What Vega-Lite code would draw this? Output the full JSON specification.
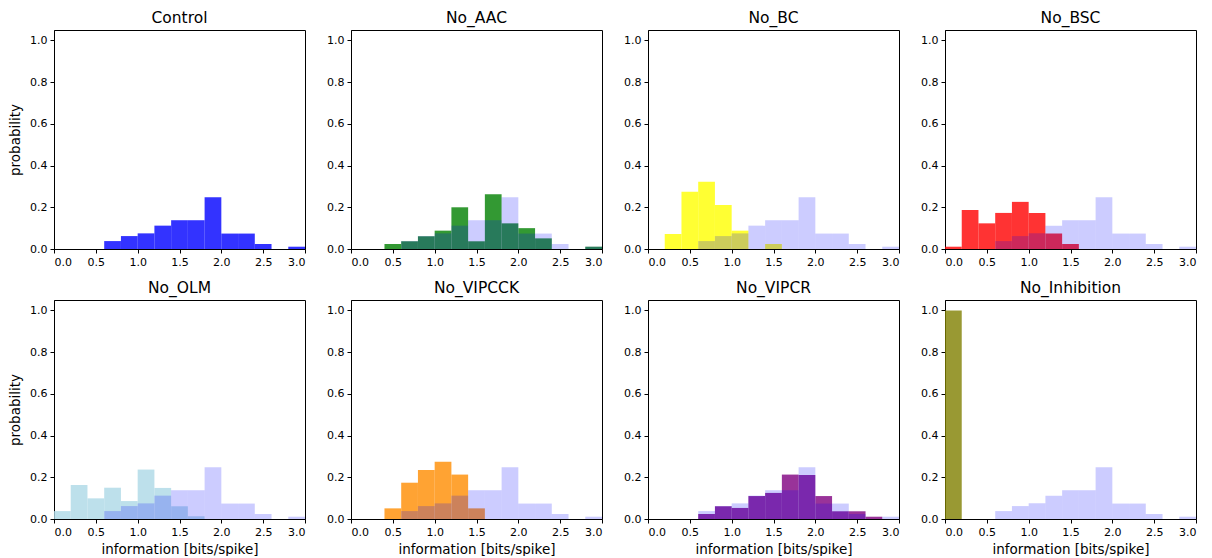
{
  "$schema": "https://vega.github.io/schema/vega-lite/v6.json",
  "background": "white",
  "padding": {"left": 8, "top": 10, "right": 0, "bottom": 0},
  "datasets": {
    "h": [
      {"c": "Control", "b": 0.6, "e": 0.8, "p": 0.038},
      {"c": "Control", "b": 0.8, "e": 1.0, "p": 0.062},
      {"c": "Control", "b": 1.0, "e": 1.2, "p": 0.075},
      {"c": "Control", "b": 1.2, "e": 1.4, "p": 0.112},
      {"c": "Control", "b": 1.4, "e": 1.6, "p": 0.138},
      {"c": "Control", "b": 1.6, "e": 1.8, "p": 0.138},
      {"c": "Control", "b": 1.8, "e": 2.0, "p": 0.248},
      {"c": "Control", "b": 2.0, "e": 2.2, "p": 0.074},
      {"c": "Control", "b": 2.2, "e": 2.4, "p": 0.074},
      {"c": "Control", "b": 2.4, "e": 2.6, "p": 0.024},
      {"c": "Control", "b": 2.8, "e": 3.0, "p": 0.011},
      {"c": "No_AAC", "b": 0.4, "e": 0.6, "p": 0.024},
      {"c": "No_AAC", "b": 0.6, "e": 0.8, "p": 0.037},
      {"c": "No_AAC", "b": 0.8, "e": 1.0, "p": 0.061},
      {"c": "No_AAC", "b": 1.0, "e": 1.2, "p": 0.088},
      {"c": "No_AAC", "b": 1.2, "e": 1.4, "p": 0.2},
      {"c": "No_AAC", "b": 1.4, "e": 1.6, "p": 0.037},
      {"c": "No_AAC", "b": 1.6, "e": 1.8, "p": 0.262},
      {"c": "No_AAC", "b": 1.8, "e": 2.0, "p": 0.123},
      {"c": "No_AAC", "b": 2.0, "e": 2.2, "p": 0.1},
      {"c": "No_AAC", "b": 2.2, "e": 2.4, "p": 0.051},
      {"c": "No_AAC", "b": 2.8, "e": 3.0, "p": 0.011},
      {"c": "No_BC", "b": 0.2, "e": 0.4, "p": 0.072},
      {"c": "No_BC", "b": 0.4, "e": 0.6, "p": 0.274},
      {"c": "No_BC", "b": 0.6, "e": 0.8, "p": 0.323},
      {"c": "No_BC", "b": 0.8, "e": 1.0, "p": 0.211},
      {"c": "No_BC", "b": 1.0, "e": 1.2, "p": 0.088},
      {"c": "No_BC", "b": 1.4, "e": 1.6, "p": 0.024},
      {"c": "No_BSC", "b": 0.0, "e": 0.2, "p": 0.011},
      {"c": "No_BSC", "b": 0.2, "e": 0.4, "p": 0.187},
      {"c": "No_BSC", "b": 0.4, "e": 0.6, "p": 0.123},
      {"c": "No_BSC", "b": 0.6, "e": 0.8, "p": 0.173},
      {"c": "No_BSC", "b": 0.8, "e": 1.0, "p": 0.226},
      {"c": "No_BSC", "b": 1.0, "e": 1.2, "p": 0.173},
      {"c": "No_BSC", "b": 1.2, "e": 1.4, "p": 0.074},
      {"c": "No_BSC", "b": 1.4, "e": 1.6, "p": 0.024},
      {"c": "No_OLM", "b": 0.0, "e": 0.2, "p": 0.038},
      {"c": "No_OLM", "b": 0.2, "e": 0.4, "p": 0.163},
      {"c": "No_OLM", "b": 0.4, "e": 0.6, "p": 0.099},
      {"c": "No_OLM", "b": 0.6, "e": 0.8, "p": 0.150},
      {"c": "No_OLM", "b": 0.8, "e": 1.0, "p": 0.086},
      {"c": "No_OLM", "b": 1.0, "e": 1.2, "p": 0.237},
      {"c": "No_OLM", "b": 1.2, "e": 1.4, "p": 0.149},
      {"c": "No_OLM", "b": 1.4, "e": 1.6, "p": 0.061},
      {"c": "No_OLM", "b": 1.6, "e": 1.8, "p": 0.013},
      {"c": "No_VIPCCK", "b": 0.4, "e": 0.6, "p": 0.051},
      {"c": "No_VIPCCK", "b": 0.6, "e": 0.8, "p": 0.174},
      {"c": "No_VIPCCK", "b": 0.8, "e": 1.0, "p": 0.235},
      {"c": "No_VIPCCK", "b": 1.0, "e": 1.2, "p": 0.275},
      {"c": "No_VIPCCK", "b": 1.2, "e": 1.4, "p": 0.213},
      {"c": "No_VIPCCK", "b": 1.4, "e": 1.6, "p": 0.051},
      {"c": "No_VIPCR", "b": 0.6, "e": 0.8, "p": 0.024},
      {"c": "No_VIPCR", "b": 0.8, "e": 1.0, "p": 0.061},
      {"c": "No_VIPCR", "b": 1.0, "e": 1.2, "p": 0.053},
      {"c": "No_VIPCR", "b": 1.2, "e": 1.4, "p": 0.11},
      {"c": "No_VIPCR", "b": 1.4, "e": 1.6, "p": 0.125},
      {"c": "No_VIPCR", "b": 1.6, "e": 1.8, "p": 0.213},
      {"c": "No_VIPCR", "b": 1.8, "e": 2.0, "p": 0.211},
      {"c": "No_VIPCR", "b": 2.0, "e": 2.2, "p": 0.11},
      {"c": "No_VIPCR", "b": 2.2, "e": 2.4, "p": 0.037},
      {"c": "No_VIPCR", "b": 2.4, "e": 2.6, "p": 0.037},
      {"c": "No_VIPCR", "b": 2.6, "e": 2.8, "p": 0.011},
      {"c": "No_Inhibition", "b": 0.0, "e": 0.2, "p": 1.0}
    ]
  },
  "config": {
    "view": {"stroke": "black", "strokeWidth": 1},
    "axis": {"grid": false, "domainColor": "black", "tickColor": "black", "labelColor": "black", "labelFont": "DejaVu Sans", "labelFontSize": 11, "titleFont": "DejaVu Sans", "titleFontSize": 13.5, "titleFontWeight": "normal", "titleColor": "black", "tickSize": 4, "labelPadding": 3},
    "axisX": {"titlePadding": 5},
    "axisY": {"titlePadding": 7},
    "title": {"font": "DejaVu Sans", "fontSize": 15.5, "fontWeight": "normal", "color": "black", "offset": 3.5}
  },
  "spacing": 12,
  "vconcat": [
    {
      "spacing": 20,
      "hconcat": [
        {
          "width": 251, "height": 219, "title": "Control", "data": {"name": "h"},
          "encoding": {
            "x": {"field": "b", "type": "quantitative", "scale": {"domain": [0, 3], "nice": false}, "axis": {"title": null, "values": [0, 0.5, 1, 1.5, 2, 2.5, 3], "format": ".1f"}},
            "x2": {"field": "e"},
            "y": {"field": "p", "type": "quantitative", "scale": {"domain": [0, 1.05], "nice": false}, "axis": {"title": "probability", "values": [0, 0.2, 0.4, 0.6, 0.8, 1], "format": ".1f"}},
            "y2": {"datum": 0}
          },
          "layer": [
            {"transform": [{"filter": "datum.c === 'Control'"}], "mark": {"type": "rect", "color": "blue", "opacity": 0.8}}
          ]
        },
        {
          "width": 251, "height": 219, "title": "No_AAC", "data": {"name": "h"},
          "encoding": {
            "x": {"field": "b", "type": "quantitative", "scale": {"domain": [0, 3], "nice": false}, "axis": {"title": null, "values": [0, 0.5, 1, 1.5, 2, 2.5, 3], "format": ".1f"}},
            "x2": {"field": "e"},
            "y": {"field": "p", "type": "quantitative", "scale": {"domain": [0, 1.05], "nice": false}, "axis": {"title": null, "values": [0, 0.2, 0.4, 0.6, 0.8, 1], "format": ".1f"}},
            "y2": {"datum": 0}
          },
          "layer": [
            {"transform": [{"filter": "datum.c === 'No_AAC'"}], "mark": {"type": "rect", "color": "green", "opacity": 0.8}},
            {"transform": [{"filter": "datum.c === 'Control'"}], "mark": {"type": "rect", "color": "blue", "opacity": 0.2}}
          ]
        },
        {
          "width": 251, "height": 219, "title": "No_BC", "data": {"name": "h"},
          "encoding": {
            "x": {"field": "b", "type": "quantitative", "scale": {"domain": [0, 3], "nice": false}, "axis": {"title": null, "values": [0, 0.5, 1, 1.5, 2, 2.5, 3], "format": ".1f"}},
            "x2": {"field": "e"},
            "y": {"field": "p", "type": "quantitative", "scale": {"domain": [0, 1.05], "nice": false}, "axis": {"title": null, "values": [0, 0.2, 0.4, 0.6, 0.8, 1], "format": ".1f"}},
            "y2": {"datum": 0}
          },
          "layer": [
            {"transform": [{"filter": "datum.c === 'No_BC'"}], "mark": {"type": "rect", "color": "yellow", "opacity": 0.8}},
            {"transform": [{"filter": "datum.c === 'Control'"}], "mark": {"type": "rect", "color": "blue", "opacity": 0.2}}
          ]
        },
        {
          "width": 251, "height": 219, "title": "No_BSC", "data": {"name": "h"},
          "encoding": {
            "x": {"field": "b", "type": "quantitative", "scale": {"domain": [0, 3], "nice": false}, "axis": {"title": null, "values": [0, 0.5, 1, 1.5, 2, 2.5, 3], "format": ".1f"}},
            "x2": {"field": "e"},
            "y": {"field": "p", "type": "quantitative", "scale": {"domain": [0, 1.05], "nice": false}, "axis": {"title": null, "values": [0, 0.2, 0.4, 0.6, 0.8, 1], "format": ".1f"}},
            "y2": {"datum": 0}
          },
          "layer": [
            {"transform": [{"filter": "datum.c === 'No_BSC'"}], "mark": {"type": "rect", "color": "red", "opacity": 0.8}},
            {"transform": [{"filter": "datum.c === 'Control'"}], "mark": {"type": "rect", "color": "blue", "opacity": 0.2}}
          ]
        }
      ]
    },
    {
      "spacing": 20,
      "hconcat": [
        {
          "width": 251, "height": 219, "title": "No_OLM", "data": {"name": "h"},
          "encoding": {
            "x": {"field": "b", "type": "quantitative", "scale": {"domain": [0, 3], "nice": false}, "axis": {"title": "information [bits/spike]", "values": [0, 0.5, 1, 1.5, 2, 2.5, 3], "format": ".1f"}},
            "x2": {"field": "e"},
            "y": {"field": "p", "type": "quantitative", "scale": {"domain": [0, 1.05], "nice": false}, "axis": {"title": "probability", "values": [0, 0.2, 0.4, 0.6, 0.8, 1], "format": ".1f"}},
            "y2": {"datum": 0}
          },
          "layer": [
            {"transform": [{"filter": "datum.c === 'No_OLM'"}], "mark": {"type": "rect", "color": "lightblue", "opacity": 0.8}},
            {"transform": [{"filter": "datum.c === 'Control'"}], "mark": {"type": "rect", "color": "blue", "opacity": 0.2}}
          ]
        },
        {
          "width": 251, "height": 219, "title": "No_VIPCCK", "data": {"name": "h"},
          "encoding": {
            "x": {"field": "b", "type": "quantitative", "scale": {"domain": [0, 3], "nice": false}, "axis": {"title": "information [bits/spike]", "values": [0, 0.5, 1, 1.5, 2, 2.5, 3], "format": ".1f"}},
            "x2": {"field": "e"},
            "y": {"field": "p", "type": "quantitative", "scale": {"domain": [0, 1.05], "nice": false}, "axis": {"title": null, "values": [0, 0.2, 0.4, 0.6, 0.8, 1], "format": ".1f"}},
            "y2": {"datum": 0}
          },
          "layer": [
            {"transform": [{"filter": "datum.c === 'No_VIPCCK'"}], "mark": {"type": "rect", "color": "darkorange", "opacity": 0.8}},
            {"transform": [{"filter": "datum.c === 'Control'"}], "mark": {"type": "rect", "color": "blue", "opacity": 0.2}}
          ]
        },
        {
          "width": 251, "height": 219, "title": "No_VIPCR", "data": {"name": "h"},
          "encoding": {
            "x": {"field": "b", "type": "quantitative", "scale": {"domain": [0, 3], "nice": false}, "axis": {"title": "information [bits/spike]", "values": [0, 0.5, 1, 1.5, 2, 2.5, 3], "format": ".1f"}},
            "x2": {"field": "e"},
            "y": {"field": "p", "type": "quantitative", "scale": {"domain": [0, 1.05], "nice": false}, "axis": {"title": null, "values": [0, 0.2, 0.4, 0.6, 0.8, 1], "format": ".1f"}},
            "y2": {"datum": 0}
          },
          "layer": [
            {"transform": [{"filter": "datum.c === 'No_VIPCR'"}], "mark": {"type": "rect", "color": "purple", "opacity": 0.8}},
            {"transform": [{"filter": "datum.c === 'Control'"}], "mark": {"type": "rect", "color": "blue", "opacity": 0.2}}
          ]
        },
        {
          "width": 251, "height": 219, "title": "No_Inhibition", "data": {"name": "h"},
          "encoding": {
            "x": {"field": "b", "type": "quantitative", "scale": {"domain": [0, 3], "nice": false}, "axis": {"title": "information [bits/spike]", "values": [0, 0.5, 1, 1.5, 2, 2.5, 3], "format": ".1f"}},
            "x2": {"field": "e"},
            "y": {"field": "p", "type": "quantitative", "scale": {"domain": [0, 1.05], "nice": false}, "axis": {"title": null, "values": [0, 0.2, 0.4, 0.6, 0.8, 1], "format": ".1f"}},
            "y2": {"datum": 0}
          },
          "layer": [
            {"transform": [{"filter": "datum.c === 'No_Inhibition'"}], "mark": {"type": "rect", "color": "olive", "opacity": 0.8}},
            {"transform": [{"filter": "datum.c === 'Control'"}], "mark": {"type": "rect", "color": "blue", "opacity": 0.2}}
          ]
        }
      ]
    }
  ]
}
